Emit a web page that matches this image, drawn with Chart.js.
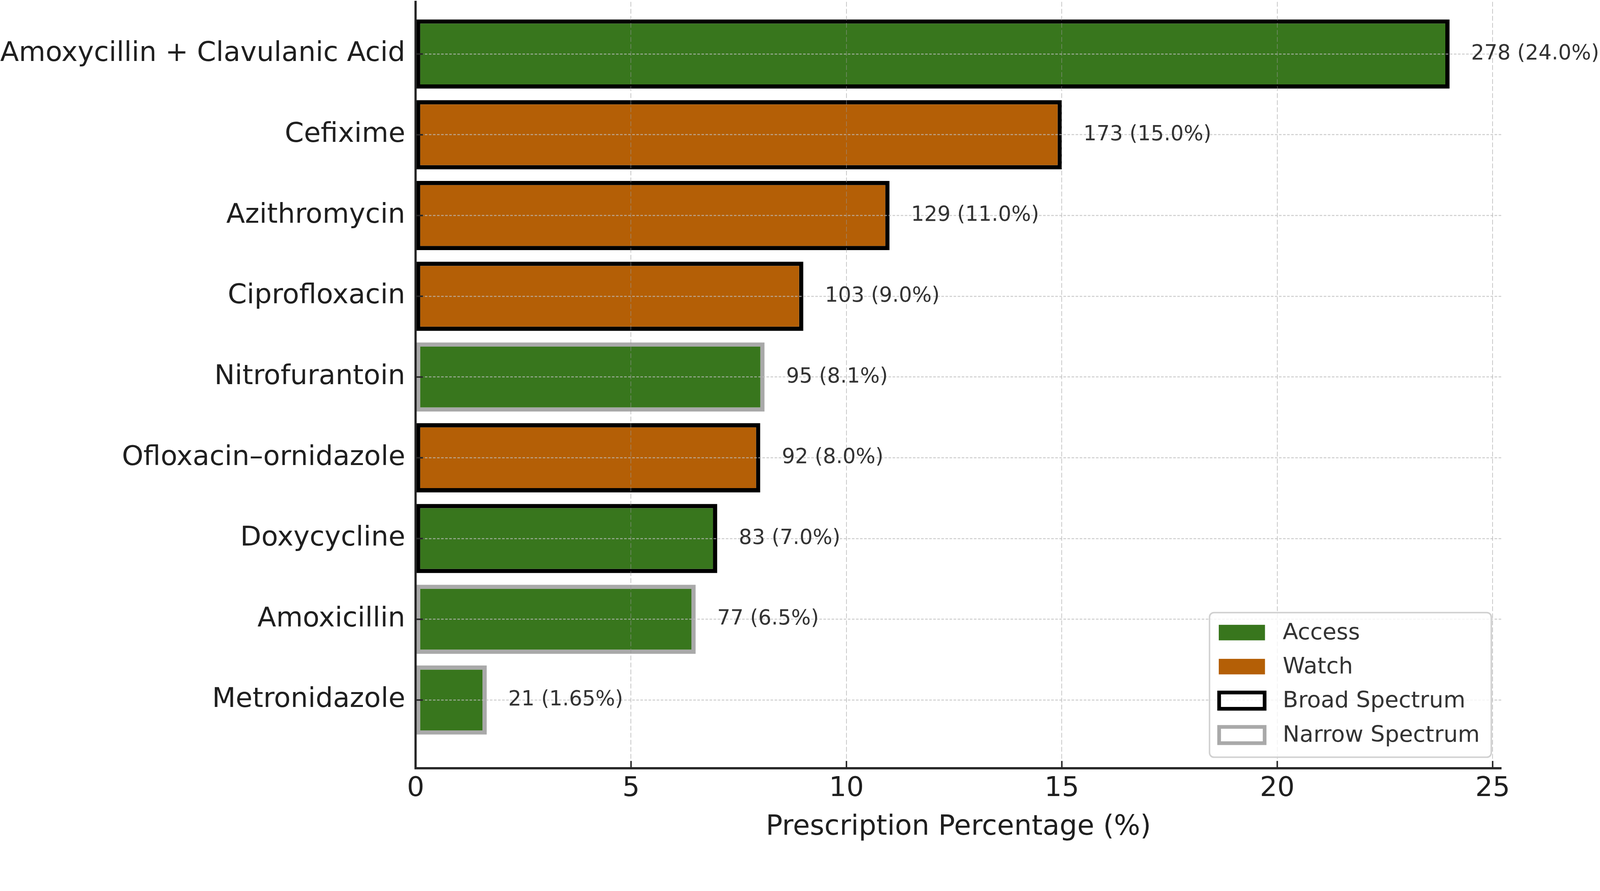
<!DOCTYPE html>
<html>
<head>
<meta charset="utf-8">
<script src="https://cdn.jsdelivr.net/npm/chart.js@4.4.1/dist/chart.umd.min.js"></script>
<style>
    html, body { margin: 0; padding: 0; background: #ffffff; overflow: hidden; width: 100%; height: 100%; }
    #frame { position: fixed; left: 0; top: 0; width: 100vw; height: 100vh; overflow: hidden; }
    #wrap { position: absolute; left: 0; top: 0; width: 4327px; height: 2280px; transform-origin: 0 0; }
    #wrap canvas { display: block; }
</style>
</head>
<body>
<div id="frame"><div id="wrap"><canvas id="abxChart" width="4327" height="2280"></canvas></div></div>
<script>
var DRUGS = [
    "Amoxycillin + Clavulanic Acid",
    "Cefixime",
    "Azithromycin",
    "Ciprofloxacin",
    "Nitrofurantoin",
    "Ofloxacin\u2013ornidazole",
    "Doxycycline",
    "Amoxicillin",
    "Metronidazole",
];
var PERCENT = [24.0, 15.0, 11.0, 9.0, 8.1, 8.0, 7.0, 6.5, 1.65];
var PERCENT_TEXT = ["24.0", "15.0", "11.0", "9.0", "8.1", "8.0", "7.0", "6.5", "1.65"];
var COUNTS = [278, 173, 129, 103, 95, 92, 83, 77, 21];
var AWARE = ["Access", "Watch", "Watch", "Watch", "Access", "Watch", "Access", "Access", "Access"];
var SPECTRUM = ["Broad", "Broad", "Broad", "Broad", "Narrow", "Broad", "Broad", "Narrow", "Narrow"];
var X_TICK_STEP = 5;
var X_MAX = 25.2;
var LEGEND_LABELS = ["Access", "Watch", "Broad Spectrum", "Narrow Spectrum"];

var COLOR_ACCESS = "#38761d";
var COLOR_WATCH = "#b45f06";
var COLOR_BROAD = "#000000";
var COLOR_NARROW = "#a9a9a9";
var TEXT_COLOR = "#1f1f1f";
var FONT = "'DejaVu Sans', 'Liberation Sans', sans-serif";

// the page is laid out in 4327x2280 units; fit it to the real window
var FIT = window.innerWidth / 4327;
document.getElementById("wrap").style.transform = "scale(" + FIT + ")";

Chart.defaults.font.family = FONT;
Chart.defaults.color = TEXT_COLOR;

function fillFor(group) {
    return group == "Access" ? COLOR_ACCESS : COLOR_WATCH;
}
function edgeFor(spec) {
    return spec == "Broad" ? COLOR_BROAD : COLOR_NARROW;
}

// small "in" ticks like matplotlib's tick direction='in'
var innerTicks = {
    id: "innerTicks",
    afterDraw: function (chart) {
        const ctx = chart.ctx;
        const area = chart.chartArea;
        const xs = chart.scales.x;
        const ys = chart.scales.y;
        ctx.save();
        ctx.strokeStyle = "#262626";
        ctx.lineWidth = 4;
        xs.ticks.forEach(function (t) {
            const px = xs.getPixelForValue(t.value);
            ctx.beginPath();
            ctx.moveTo(px, area.bottom);
            ctx.lineTo(px, area.bottom - 20);
            ctx.stroke();
        });
        ys.ticks.forEach(function (t) {
            const py = ys.getPixelForValue(t.value);
            ctx.beginPath();
            ctx.moveTo(area.left, py);
            ctx.lineTo(area.left + 20, py);
            ctx.stroke();
        });
        ctx.restore();
    },
};

var barLabels = {
    id: "barLabels",
    afterDraw: function (chart) {
        const ctx = chart.ctx;
        const xs = chart.scales.x;
        const ys = chart.scales.y;
        ctx.save();
        ctx.font = "56px " + FONT;
        ctx.fillStyle = "#333333";
        ctx.textAlign = "left";
        ctx.textBaseline = "middle";
        for (let i = 0; i < DRUGS.length; i++) {
            const txt = COUNTS[i] + " (" + PERCENT_TEXT[i] + "%)";
            ctx.fillText(txt, xs.getPixelForValue(PERCENT[i] + 0.5), ys.getPixelForValue(i));
        }
        ctx.restore();
    },
};

var boxLegend = {
    id: "boxLegend",
    afterDraw: function (chart) {
        const ctx = chart.ctx;
        const area = chart.chartArea;
        const w = 762, h = 391;
        const right = area.right - 27;
        const bottom = area.bottom - 30;
        const left = right - w;
        const top = bottom - h;
        ctx.save();
        ctx.beginPath();
        ctx.roundRect(left, top, w, h, 12);
        ctx.fillStyle = "rgba(255,255,255,0.8)";
        ctx.fill();
        ctx.lineWidth = 4;
        ctx.strokeStyle = "#d0d0d0";
        ctx.stroke();

        const rowY = [54, 146, 238, 331];
        const handles = [
            { fill: COLOR_ACCESS },
            { fill: COLOR_WATCH },
            { edge: COLOR_BROAD },
            { edge: COLOR_NARROW },
        ];
        ctx.font = "61px " + FONT;
        ctx.textAlign = "left";
        ctx.textBaseline = "middle";
        for (let i = 0; i < LEGEND_LABELS.length; i++) {
            const cy = top + rowY[i];
            const hx = left + 25;
            if (handles[i].fill) {
                ctx.fillStyle = handles[i].fill;
                ctx.fillRect(hx, cy - 21, 125, 42);
            } else {
                ctx.lineWidth = 10;
                ctx.strokeStyle = handles[i].edge;
                ctx.strokeRect(hx + 1, cy - 22, 123, 44);
            }
            ctx.fillStyle = "#333333";
            ctx.fillText(LEGEND_LABELS[i], left + 198, cy + 2);
        }
        ctx.restore();
    },
};

const data = {
    datasets: [
        {
            data: DRUGS.map(function (d, i) {
                return { x: PERCENT[i], y: i };
            }),
            backgroundColor: AWARE.map(fillFor),
            borderColor: SPECTRUM.map(edgeFor),
            borderWidth: 11.5,
            borderSkipped: false,
            categoryPercentage: 1.0,
            barPercentage: 0.857,
        },
    ],
};

const config = {
    type: "bar",
    data: data,
    plugins: [innerTicks, barLabels, boxLegend],
    options: {
        animation: false,
        responsive: false,
        devicePixelRatio: (window.devicePixelRatio || 1) * FIT,
        indexAxis: "y",
        layout: {
            padding: { top: 5, right: 267, bottom: 0, left: 0 },
        },
        plugins: {
            legend: { display: false },
            tooltip: { enabled: false },
        },
        scales: {
            x: {
                type: "linear",
                bounds: "data",
                offset: false,
                min: 0,
                max: X_MAX,
                afterFit: function (scale) {
                    scale.height = 203;
                    scale.paddingLeft = 0;
                    scale.paddingRight = 0;
                },
                ticks: {
                    stepSize: X_TICK_STEP,
                    includeBounds: false,
                    padding: 11,
                    color: TEXT_COLOR,
                    font: { size: 74 },
                },
                grid: {
                    offset: false,
                    color: "rgba(150,150,150,0.55)",
                    lineWidth: 2,
                    drawTicks: false,
                    z: 1,
                },
                border: {
                    color: "#262626",
                    width: 6,
                    dash: [13, 6],
                    z: 2,
                },
                title: {
                    display: true,
                    text: "Prescription Percentage (%)",
                    color: TEXT_COLOR,
                    font: { size: 75, lineHeight: 1.0 },
                    padding: { top: 0, bottom: 5 },
                },
            },
            y: {
                type: "linear",
                bounds: "data",
                offset: false,
                reverse: true,
                min: -0.646,
                max: 8.846,
                // one tick per drug, at its index
                afterBuildTicks: function (scale) {
                    scale.ticks = DRUGS.map(function (d, i) {
                        return { value: i };
                    });
                },
                afterFit: function (scale) {
                    scale.width = 1124;
                    scale.paddingTop = 0;
                    scale.paddingBottom = 0;
                },
                ticks: {
                    autoSkip: false,
                    padding: 28,
                    color: TEXT_COLOR,
                    font: { size: 74 },
                    callback: function (value) {
                        return DRUGS[Math.round(value)];
                    },
                },
                grid: {
                    offset: false,
                    color: "rgba(190,190,190,0.7)",
                    lineWidth: 3,
                    drawTicks: false,
                    z: 1,
                },
                border: {
                    color: "#262626",
                    width: 6,
                    dash: [7, 4],
                    z: 2,
                },
            },
        },
    },
};

function drawCanvas() {
    const ctx = document.getElementById("abxChart");
    new Chart(ctx, config);
}
drawCanvas();
</script>
</body>
</html>
